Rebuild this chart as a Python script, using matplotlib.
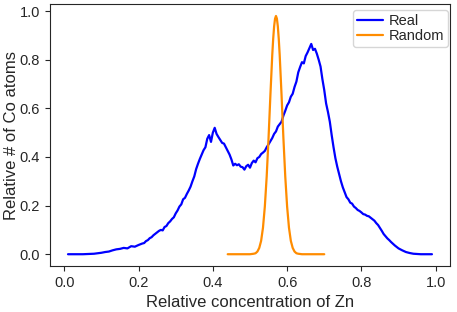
import matplotlib
matplotlib.use("Agg")
import matplotlib.pyplot as plt
import seaborn as sns

# Real distribution
real_x = [0.01, 0.05, 0.08, 0.10, 0.11, 0.12, 0.13, 0.14, 0.15, 0.16, 0.17, 0.18, 0.19,
          0.20, 0.21, 0.215, 0.22, 0.225, 0.23, 0.235, 0.24, 0.245, 0.25, 0.255, 0.26,
          0.265, 0.27, 0.275, 0.28, 0.285, 0.29, 0.295, 0.30, 0.305, 0.31, 0.315, 0.32,
          0.325, 0.33, 0.335, 0.34, 0.345, 0.35, 0.355, 0.36, 0.365, 0.37, 0.375,
          0.38, 0.385, 0.39, 0.395, 0.40, 0.405, 0.41, 0.415, 0.42, 0.425, 0.43,
          0.435, 0.44, 0.445, 0.45, 0.455, 0.46, 0.465, 0.47, 0.475, 0.48, 0.485,
          0.49, 0.495, 0.50, 0.505, 0.51, 0.515, 0.52, 0.525, 0.53, 0.535, 0.54,
          0.545, 0.55, 0.555, 0.56, 0.565, 0.57, 0.575, 0.58, 0.585, 0.59, 0.595,
          0.60, 0.605, 0.61, 0.615, 0.62, 0.625, 0.63, 0.635, 0.64, 0.645, 0.65,
          0.655, 0.66, 0.665, 0.67, 0.675, 0.68, 0.685, 0.69, 0.695, 0.70, 0.705,
          0.71, 0.715, 0.72, 0.725, 0.73, 0.735, 0.74, 0.745, 0.75, 0.755, 0.76,
          0.765, 0.77, 0.775, 0.78, 0.785, 0.79, 0.795, 0.80, 0.805, 0.81, 0.815,
          0.82, 0.825, 0.83, 0.835, 0.84, 0.845, 0.85, 0.855, 0.86, 0.865, 0.87,
          0.875, 0.88, 0.89, 0.90, 0.91, 0.92, 0.93, 0.94, 0.95, 0.96, 0.99]
real_y = [0.0, 0.0, 0.002, 0.006, 0.009, 0.011, 0.016, 0.02, 0.022, 0.026, 0.024, 0.033, 0.031,
          0.038, 0.044, 0.046, 0.054, 0.058, 0.066, 0.07, 0.078, 0.084, 0.09, 0.096, 0.1,
          0.098, 0.112, 0.116, 0.128, 0.135, 0.145, 0.152, 0.168, 0.18, 0.196, 0.205, 0.226,
          0.232, 0.248, 0.262, 0.278, 0.3, 0.32, 0.35, 0.372, 0.392, 0.41, 0.428,
          0.44, 0.475, 0.49, 0.462, 0.50, 0.52, 0.495, 0.482, 0.47, 0.458, 0.455,
          0.44, 0.425, 0.41, 0.39, 0.365, 0.372, 0.366, 0.37, 0.36, 0.358, 0.348,
          0.362, 0.368, 0.356, 0.375, 0.385, 0.378, 0.395, 0.40, 0.412, 0.418, 0.425,
          0.44, 0.452, 0.465, 0.478, 0.495, 0.505, 0.525, 0.535, 0.545, 0.57, 0.59,
          0.612, 0.625, 0.648, 0.66, 0.688, 0.71, 0.748, 0.77, 0.79, 0.785, 0.815,
          0.83, 0.848, 0.865, 0.84, 0.845, 0.825, 0.80, 0.772, 0.72, 0.675, 0.62,
          0.585, 0.545, 0.49, 0.44, 0.395, 0.36, 0.33, 0.30, 0.275, 0.255, 0.235,
          0.226, 0.212, 0.208, 0.196, 0.19, 0.182, 0.178, 0.172, 0.165, 0.163, 0.158,
          0.156, 0.15, 0.144, 0.138, 0.128, 0.12, 0.108, 0.096, 0.083, 0.074, 0.065,
          0.058, 0.05, 0.036, 0.024, 0.016, 0.009, 0.005, 0.002, 0.001, 0.0, 0.0]

# Random distribution
rand_x = [0.44, 0.50, 0.51, 0.515, 0.52, 0.525, 0.53, 0.535, 0.54, 0.545, 0.55,
          0.555, 0.56, 0.5625, 0.565, 0.5675, 0.57, 0.5725, 0.575, 0.5775, 0.58,
          0.585, 0.59, 0.595, 0.60, 0.605, 0.61, 0.615, 0.62, 0.625, 0.63, 0.64, 0.70]
rand_y = [0.0, 0.0, 0.002, 0.004, 0.011, 0.026, 0.055, 0.109, 0.196, 0.32, 0.478,
          0.655, 0.82, 0.886, 0.937, 0.969, 0.98, 0.969, 0.937, 0.886, 0.82,
          0.655, 0.478, 0.32, 0.196, 0.109, 0.055, 0.026, 0.011, 0.004, 0.002, 0.0, 0.0]

sns.set_style("ticks")
plt.rcParams['font.family'] = ['Liberation Sans', 'DejaVu Sans']

fig, ax = plt.subplots(figsize=(4.57, 3.12), dpi=100)
fig.subplots_adjust(left=0.109, right=0.985, top=0.987, bottom=0.147)

ax.plot(real_x, real_y, color="blue", lw=1.6, label="Real")
ax.plot(rand_x, rand_y, color="darkorange", lw=1.6, label="Random")

ax.set_xlabel("Relative concentration of Zn", fontsize=12)
ax.set_ylabel("Relative # of Co atoms", fontsize=12)
ax.yaxis.set_label_coords(-0.078, 0.5)
ax.tick_params(labelsize=10.5)
ax.set_xticks([0.0, 0.2, 0.4, 0.6, 0.8, 1.0])
ax.set_yticks([0.0, 0.2, 0.4, 0.6, 0.8, 1.0])
ax.legend(loc="upper right", bbox_to_anchor=(0.995, 0.976), borderaxespad=0,
          fontsize=10.5, handlelength=1.8, handletextpad=0.4,
          borderpad=0.25, labelspacing=0.1)

plt.savefig("out.png", dpi=100)
